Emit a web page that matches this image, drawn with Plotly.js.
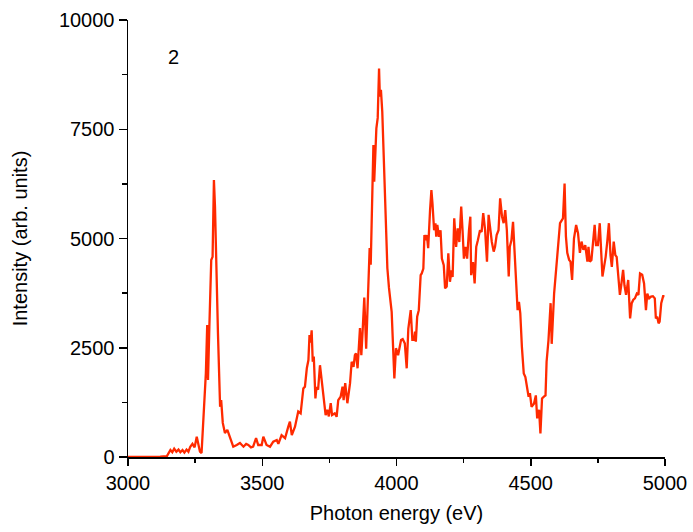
<!DOCTYPE html>
<html>
<head>
<meta charset="utf-8">
<script src="https://cdn.plot.ly/plotly-3.0.1.min.js"></script>
<style>html,body{margin:0;padding:0;background:#fff;}#chart{width:693px;height:532px;}</style>
</head>
<body>
<div id="chart"></div>
<script>
// Photon energy (eV)
const energy = [3000,3040,3080,3120,3145,3150,3158,3165,3172,3180,3188,3195,3203,3210,3218,3225,3232,3240,3248,3256,3262,3268,3274,3283,3290,3295,3298,3303,3310,3315,3320,3324,3328,3335,3343,3347,3353,3361,3370,3380,3392,3405,3417,3430,3440,3448,3458,3466,3477,3485,3498,3504,3516,3529,3541,3554,3560,3572,3585,3597,3603,3610,3622,3634,3643,3653,3659,3666,3672,3676,3680,3684,3688,3692,3698,3702,3708,3715,3720,3727,3736,3742,3748,3755,3760,3770,3777,3783,3792,3799,3803,3809,3817,3827,3833,3840,3845,3849,3855,3864,3869,3874,3880,3887,3895,3900,3904,3910,3914,3917,3925,3930,3935,3938,3942,3947,3955,3958,3966,3972,3982,3992,3998,4006,4013,4017,4023,4031,4038,4044,4053,4059,4065,4069,4072,4077,4083,4090,4094,4100,4104,4109,4113,4118,4125,4130,4134,4140,4145,4148,4152,4158,4164,4169,4176,4181,4187,4193,4199,4205,4209,4215,4222,4228,4234,4241,4246,4251,4257,4263,4270,4275,4278,4285,4291,4297,4303,4311,4317,4323,4330,4337,4343,4349,4355,4362,4367,4373,4380,4386,4393,4399,4405,4411,4418,4422,4428,4434,4441,4447,4451,4456,4461,4467,4474,4480,4486,4492,4497,4503,4512,4519,4524,4531,4536,4542,4549,4555,4559,4566,4574,4578,4587,4594,4602,4609,4616,4620,4626,4631,4636,4643,4648,4654,4661,4669,4676,4683,4689,4696,4703,4711,4715,4720,4726,4733,4738,4743,4750,4757,4763,4767,4773,4779,4785,4791,4797,4802,4809,4815,4820,4825,4832,4837,4844,4849,4855,4863,4870,4876,4882,4888,4895,4901,4907,4915,4922,4929,4934,4941,4948,4955,4962,4966,4971,4976,4980,4986,4993,4998];
// Intensity (arb. units)
const intensity = [0,0,0,10,20,90,160,110,190,120,170,110,160,100,170,120,236,300,220,465,250,121,92,1190,1920,3020,1760,2980,4507,4580,6340,5730,4510,2840,1150,1300,780,550,620,465,236,275,320,236,300,275,220,236,430,275,275,465,275,236,350,390,300,500,430,695,810,500,695,1040,1000,1570,1610,2030,2220,2790,2620,2900,2180,2300,1340,1600,1540,2100,1800,1380,960,1080,930,1230,960,1000,920,1300,1380,1610,1300,1690,1230,1690,2180,2060,2330,2370,2030,2950,2330,2900,3650,2480,4080,4780,4400,6150,7140,6300,7520,7760,8890,8250,8400,7900,6300,6230,4320,3870,3320,1800,2490,2330,2520,2680,2700,2600,2030,2930,3360,2680,2680,2870,2640,3210,3360,4160,4200,4310,5080,4960,5080,4780,5650,6110,5800,5190,5350,5040,5310,5040,5190,4540,4390,3860,3900,4660,4010,4270,4120,5460,4810,5230,4920,5730,5190,4540,4810,4540,5190,5500,4160,4460,3970,4810,4960,5190,5150,5580,5190,4470,5540,5190,4920,4700,4810,5080,5190,5920,5500,5350,5650,5190,4130,4810,4960,5380,4430,3820,3360,3550,3290,2520,1910,1830,1610,1380,1460,1150,1220,1410,885,1080,540,1340,1380,1410,2180,2670,3520,2590,3740,4290,4780,5350,5420,5460,6260,5050,4670,4510,4470,4050,5000,5310,5120,4670,4930,4740,4850,4470,4810,4470,4510,5040,5310,4850,4850,5350,4470,4130,4350,4580,4930,5350,4620,4350,4930,4620,4580,4280,3710,3930,4280,3930,3710,4050,3170,3520,3600,3630,3740,3710,4200,4170,3970,3360,3740,3630,3670,3680,3630,3170,3210,3060,3100,3520,3680,3680];
const xTicks = [3000,3500,4000,4500,5000];
const yTicks = [0,2500,5000,7500,10000];
const panelLabel = "2";

const font = {family: "Liberation Sans, Arial, sans-serif", size: 20, color: "#000"};

Plotly.newPlot("chart", [{
  x: energy, y: intensity, type: "scatter", mode: "lines",
  line: {color: "#ff2a00", width: 2.3}, cliponaxis: false, hoverinfo: "skip"
}], {
  width: 693, height: 532,
  margin: {l: 128, r: 28, t: 20, b: 75},
  paper_bgcolor: "#fff", plot_bgcolor: "#fff",
  font: font, showlegend: false,
  xaxis: {
    range: [3000, 5000], tickvals: xTicks, ticktext: xTicks.map(String),
    ticks: "outside", ticklen: 7, tickwidth: 1.5, tickcolor: "#000",
    showline: true, linecolor: "#000", linewidth: 1.5, showgrid: false, zeroline: false,
    minor: {dtick: 250, tick0: 3000, ticks: "outside", ticklen: 4, tickwidth: 1.5, tickcolor: "#000", showgrid: false},
    tickfont: font,
    title: {text: "Photon energy (eV)", font: font, standoff: 13}
  },
  yaxis: {
    range: [0, 10000], tickvals: yTicks, ticktext: yTicks.map(String),
    ticks: "outside", ticklen: 8, tickwidth: 1.5, tickcolor: "#000",
    showline: true, linecolor: "#000", linewidth: 1.5, showgrid: false, zeroline: false,
    minor: {dtick: 1250, tick0: 0, ticks: "outside", ticklen: 5, tickwidth: 1.5, tickcolor: "#000", showgrid: false},
    tickfont: font,
    title: {text: "Intensity (arb. units)", font: font, standoff: 26}
  },
  annotations: [{
    text: panelLabel, x: 3168, y: 9150, xref: "x", yref: "y",
    showarrow: false, font: font
  }]
}, {displayModeBar: false, staticPlot: true});
</script>
</body>
</html>
